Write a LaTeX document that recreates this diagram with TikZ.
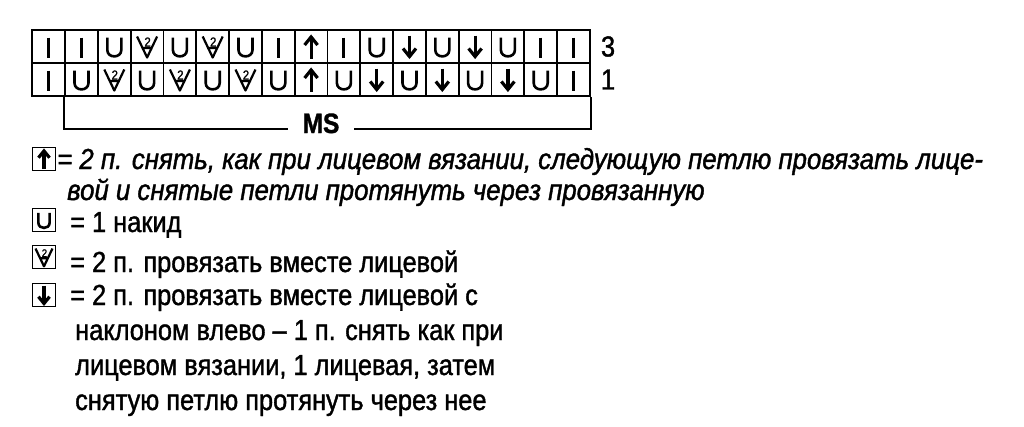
\documentclass[tikz,border=0pt]{standalone}
\usepackage{fontspec}
\setmainfont{Liberation Sans}[FakeStretch=0.875, FakeBold=1.3]
\newfontfamily\itfont{Liberation Sans}[FakeStretch=0.89, FakeBold=1.3]
\usetikzlibrary{positioning}

\tikzset{
  knit/.pic={\draw[line width=2.9pt] (0,-9) -- (0,11);},
  yo/.pic={\draw[line width=2.6pt] (-7,-9) -- (-7,3.5) .. controls (-7,12) and (7,12) .. (7,3.5) -- (7,-9);},
  ktog/.pic={\draw[line width=2.2pt, line join=round] (-10,-10) -- (0,11) -- (10,-10) (-5.5,1.5) -- (5.5,1.5);
    \node[inner sep=0pt, transform shape, font=\fontsize{13}{13}\selectfont] (two) at (0.5,-4.5) {2};},
  up/.pic={\draw[line width=3.2pt] (0,12) -- (0,-8);
    \draw[line width=3.2pt] (-6.5,-1.5) -- (0,-9.5) -- (6.5,-1.5);},
  down/.pic={\draw[line width=3.2pt] (0,-11) -- (0,9);
    \draw[line width=3.2pt] (-6.5,2) -- (0,10) -- (6.5,2);}
}

\begin{document}
\begin{tikzpicture}[x=1pt, y=-1pt]

\tikzstyle{cell} = [draw, line width=1.8pt, minimum width=32.8pt, minimum height=33pt, inner sep=0pt]
\tikzstyle{key} = [draw, line width=1.8pt, minimum size=23pt, inner sep=0pt]
\tikzstyle{txt} = [anchor=base west, inner sep=0pt, font=\fontsize{29}{29}\selectfont]
\tikzstyle{ittxt} = [txt, font=\fontsize{29}{29}\selectfont\itfont\itshape]

\useasboundingbox (0,0) rectangle (1024,426);

% chart, row 3 on top, row 1 below
\foreach \s [count=\i] in {knit,knit,yo,ktog,yo,ktog,yo,knit,up,knit,yo,down,yo,down,yo,knit,knit} {
  \node [cell] (a\i) at ({32.3+32.8*(\i-0.5)},46.5) {};
  \pic at (a\i) {\s};
}
\foreach \s [count=\i] in {knit,yo,ktog,yo,ktog,yo,ktog,yo,up,yo,down,yo,down,yo,down,yo,knit} {
  \node [cell] (b\i) at ({32.3+32.8*(\i-0.5)},79.5) {};
  \pic at (b\i) {\s};
}
\node [txt, anchor=west, right = 10pt of a17] (row3) {3};
\node [txt, anchor=west, right = 10pt of b17] (row1) {1};

\node [txt, anchor=base, font=\fontsize{28}{28}\selectfont\bfseries, inner xsep=14pt] (ms) at (321,133) {MS};
\draw [line width=1.8pt] (b2.south west) |- ([yshift=4pt]ms.base west);
\draw [line width=1.8pt] (b17.south east) |- ([yshift=4pt]ms.base east);

% legend
\node [key] (kup) at (44,159) {};
\pic [scale=0.85] at (kup) {up};
\node [ittxt] (tup) at (57,169) {= 2 п. снять, как при лицевом вязании, следующую петлю провязать лице-};
\node [ittxt] (tup2) at (67,200) {вой и снятые петли протянуть через провязанную};

\node [key] (kyo) at (44,220) {};
\pic [scale=0.8] at (kyo) {yo};
\node [txt] (tyo) at (70,232) {= 1 накид};

\node [key] (ktog) at (44,257) {};
\pic [scale=0.85] at (ktog) {ktog};
\node [txt] (ttog) at (70,272) {= 2 п. провязать вместе лицевой};

\node [key] (kdn) at (44,295) {};
\pic [scale=0.85] at (kdn) {down};
\node [txt] (tdn) at (70,305) {= 2 п. провязать вместе лицевой с};
\node [txt] (tdn2) at (75,340) {наклоном влево -- 1 п. снять как при};
\node [txt] (tdn3) at (75,375) {лицевом вязании, 1 лицевая, затем};
\node [txt] (tdn4) at (75,410) {снятую петлю протянуть через нее};
\end{tikzpicture}
\end{document}
